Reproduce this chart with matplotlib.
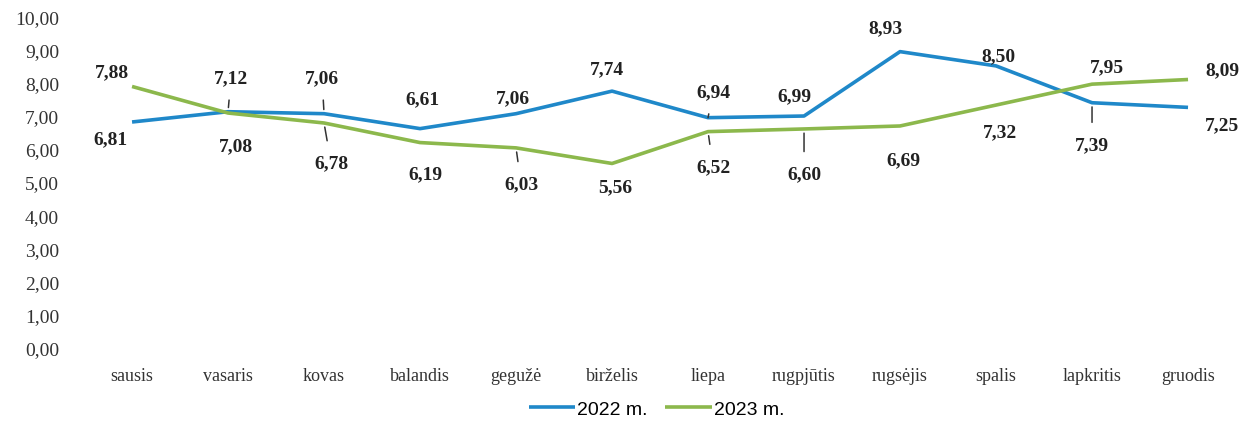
from matplotlib import pyplot as plt
from matplotlib.ticker import FuncFormatter
import numpy as np

months = ['sausis', 'vasaris', 'kovas', 'balandis', 'gegužė', 'birželis',
          'liepa', 'rugpjūtis', 'rugsėjis', 'spalis', 'lapkritis', 'gruodis']
y2022 = [6.81, 7.12, 7.06, 6.61, 7.06, 7.74, 6.94, 6.99, 8.93, 8.50, 7.39, 7.25]
y2023 = [7.88, 7.08, 6.78, 6.19, 6.03, 5.56, 6.52, 6.60, 6.69, 7.32, 7.95, 8.09]

# label offsets in pixels (dx, dy) and whether a leader line is drawn
off2022 = [(-22, -17), (3, 34), (-2, 36), (2, 30), (-3, 16), (-5, 22),
           (5, 26), (-10, 20), (-15, 24), (2, 10), (0, -42), (34, -17)]
lead2022 = [0, 1, 1, 0, 0, 0, 1, 0, 0, 0, 1, 0]
off2023 = [(-20, 15), (8, -33), (7, -40), (5, -31), (5, -36), (3, -23),
           (5, -35), (0, -45), (3, -34), (4, -27), (15, 17), (34, 10)]
lead2023 = [0, 0, 1, 0, 1, 0, 1, 1, 0, 0, 0, 0]

blue = '#1f88c9'
green = '#8cb84c'

fig = plt.figure(figsize=(12.47, 4.39), dpi=100)
ax = fig.add_axes([0.0674, 0.205, 0.9238, 0.756])
x = np.arange(len(months))
ax.plot(x, y2022, color=blue, lw=2.6, label='2022 m.', solid_capstyle='butt')
ax.plot(x, y2023, color=green, lw=2.6, label='2023 m.', solid_capstyle='butt')


def put_labels(vals, offs, leads):
    for i, v in enumerate(vals):
        dx, dy = offs[i]
        arrow = dict(arrowstyle='-', color='#333333', lw=1.1,
                     shrinkA=8, shrinkB=3) if leads[i] else None
        ax.annotate(f'{v:.2f}'.replace('.', ','), (x[i], v),
                    xytext=(dx, dy), textcoords='offset pixels',
                    ha='center', va='center', fontsize=14,
                    fontweight='bold', family='Liberation Serif',
                    color='#222222', arrowprops=arrow)


put_labels(y2022, off2022, lead2022)
put_labels(y2023, off2023, lead2023)

ax.set_xlim(-0.5, len(months) - 0.5)
ax.set_ylim(0, 10)
ax.set_yticks(np.arange(0, 11, 1))
ax.yaxis.set_major_formatter(FuncFormatter(lambda v, p: f'{v:.2f}'.replace('.', ',')))
ax.set_xticks(x)
ax.set_xticklabels(months)
for s in ax.spines.values():
    s.set_visible(False)
ax.tick_params(axis='x', length=0, labelsize=13, colors='#333333', pad=14)
ax.tick_params(axis='y', length=0, labelsize=14, colors='#333333', pad=18)
for t in ax.get_xticklabels() + ax.get_yticklabels():
    t.set_family('Liberation Serif')

ax.legend(loc='center', bbox_to_anchor=(0.497, -0.185), ncol=2,
          frameon=False, prop={'family': 'Liberation Sans', 'size': 14},
          handlelength=2.4, handletextpad=0.1, columnspacing=0.9)

plt.savefig('out.png', dpi=100)
